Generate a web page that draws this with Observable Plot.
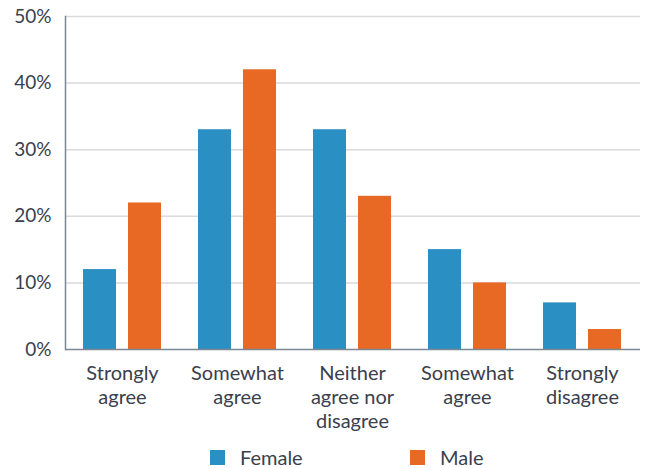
<!DOCTYPE html>
<html>
<head>
<meta charset="utf-8">
<script src="https://cdn.jsdelivr.net/npm/d3@7"></script>
<script src="https://cdn.jsdelivr.net/npm/@observablehq/plot@0.6"></script>
<style>
  html, body { margin: 0; padding: 0; background: #fff; }
  body { width: 645px; font-family: Lato, "Open Sans", sans-serif; }
  #legend { position: relative; height: 28px; color: #3a404c; font-size: 20px; }
  #legend .item { position: absolute; top: 9px; display: flex; align-items: center; height: 16px; }
  #legend .sw { width: 15px; height: 15px; margin-right: 15px; }
  #legend .lbl { display: inline-block; line-height: 16px; height: 16px; }
</style>
</head>
<body>
<div id="chart"></div>
<div id="legend"></div>
<script>
const categoryKeys = ["sa", "swa", "n", "swd", "sd"];
const categoryLabels = ["Strongly\nagree", "Somewhat\nagree", "Neither\nagree nor\ndisagree", "Somewhat\nagree", "Strongly\ndisagree"];
const series = ["Female", "Male"];
const femaleValues = [0.12, 0.33, 0.33, 0.15, 0.07];
const maleValues = [0.22, 0.42, 0.23, 0.10, 0.03];
const colors = ["#2a8fc2", "#e86924"];
const yTicks = [0, 0.1, 0.2, 0.3, 0.4, 0.5];

const femaleData = categoryKeys.map((k, i) => ({cat: k, sex: "Female", value: femaleValues[i]}));
const maleData = categoryKeys.map((k, i) => ({cat: k, sex: "Male", value: maleValues[i]}));
const labelOf = Object.fromEntries(categoryKeys.map((k, i) => [k, categoryLabels[i]]));

const textColor = "#3a404c";
const chart = Plot.plot({
  width: 645,
  height: 440,
  marginLeft: 65,
  marginRight: 5,
  marginTop: 16,
  marginBottom: 91,
  style: {fontFamily: "Lato, 'Open Sans', sans-serif", fontSize: "19px", color: textColor, background: "#fff"},
  x: {domain: categoryKeys, paddingInner: 0.32, paddingOuter: 0.16, label: null, axis: null},
  y: {domain: [0, 0.5], label: null, axis: null},
  color: {domain: series, range: colors},
  marks: [
    Plot.ruleY(yTicks.filter(d => d > 0), {stroke: "#d9d9de", strokeWidth: 1.5}),
    Plot.barY(femaleData, {x: "cat", y: "value", fill: "sex", insetRight: 45}),
    Plot.barY(maleData, {x: "cat", y: "value", fill: "sex", insetLeft: 45}),
    Plot.ruleY([0], {stroke: "#7d8794", strokeWidth: 1.5}),
    Plot.frame({anchor: "left", stroke: "#7d8794", strokeWidth: 1.5}),
    Plot.axisY(yTicks, {tickSize: 0, tickPadding: 14, tickFormat: d3.format(".0%"), fontSize: 19, fill: textColor, label: null}),
    Plot.axisX(categoryKeys, {tickSize: 0, tickPadding: 13, tickFormat: k => labelOf[k], fontSize: 20, lineHeight: 1.2, fill: textColor, label: null})
  ]
});
document.getElementById("chart").appendChild(chart);

const legend = document.getElementById("legend");
const legendLeft = [210, 410];
series.forEach((s, i) => {
  const item = document.createElement("div");
  item.className = "item";
  item.style.left = legendLeft[i] + "px";
  const sw = document.createElement("div");
  sw.className = "sw";
  sw.style.background = colors[i];
  const t = document.createElement("span");
  t.className = "lbl";
  t.textContent = s;
  item.appendChild(sw);
  item.appendChild(t);
  legend.appendChild(item);
});
</script>
</body>
</html>
